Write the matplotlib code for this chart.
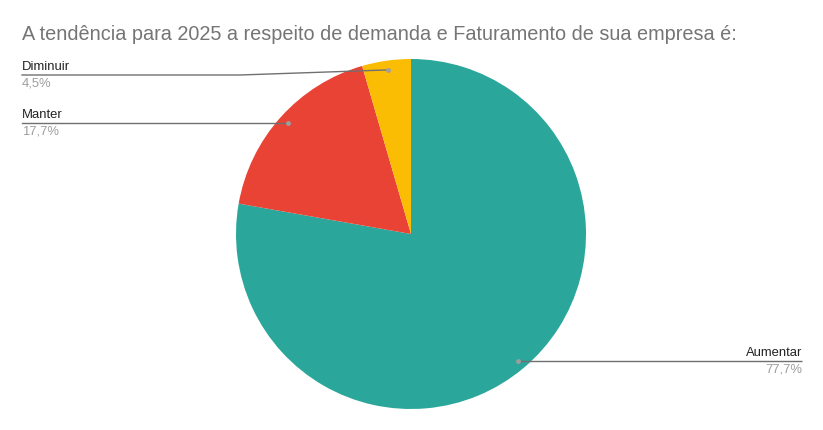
import numpy as np
import matplotlib
matplotlib.use("Agg")
import matplotlib.pyplot as plt

title = "A tendência para 2025 a respeito de demanda e Faturamento de sua empresa é:"
categories = ["Aumentar", "Manter", "Diminuir"]
values = [77.7, 17.7, 4.5]
pct_labels = ["77,7%", "17,7%", "4,5%"]
colors = ["#2BA69A", "#E94335", "#FBBC04"]

plt.rcParams["font.family"] = ["Liberation Sans", "DejaVu Sans"]

W, H = 823, 430
fig = plt.figure(figsize=(W / 100, H / 100), dpi=100)
ax = fig.add_axes([0, 0, 1, 1])

cx, cy, R = 411, H - 234, 175
wedges, _ = ax.pie(values, colors=colors, startangle=90, counterclock=False,
                   center=(cx, cy), radius=R, frame=True,
                   wedgeprops=dict(linewidth=0))
ax.set_xlim(0, W)
ax.set_ylim(0, H)
ax.set_aspect("equal")
ax.axis("off")

fig.text(22 / W, 1 - 35 / H, title, fontsize=14.3, color="#757575",
         va="center", ha="left")

line_col = "#707070"
dot_col = "#9E9E9E"
sides = {"Aumentar": "right", "Manter": "left", "Diminuir": "left"}
label_line_y = {"Diminuir": H - 75}
for w, cat, pct in zip(wedges, categories, pct_labels):
    ang = np.deg2rad((w.theta1 + w.theta2) / 2)
    dx = cx + 0.947 * R * np.cos(ang)
    dy = cy + 0.947 * R * np.sin(ang)
    ly = label_line_y.get(cat, dy)
    if sides[cat] == "right":
        xe = 802
        ax.plot([dx, xe], [dy, ly], color=line_col, lw=1, solid_capstyle="butt")
        tx, ha = xe, "right"
    else:
        xe = 22
        if abs(ly - dy) > 1:
            ax.plot([dx, 240, xe], [dy, ly, ly], color=line_col, lw=1)
        else:
            ax.plot([dx, xe], [dy, ly], color=line_col, lw=1)
        tx, ha = xe, "left"
    ax.plot([dx], [dy], "o", color=dot_col, ms=3.5, mec="none")
    ax.text(tx, ly + 2, cat, ha=ha, va="bottom", fontsize=9.4, color="#222222")
    ax.text(tx, ly - 2.5, pct, ha=ha, va="top", fontsize=9.4, color="#9E9E9E")

fig.savefig("out.png", dpi=100, facecolor="white")
